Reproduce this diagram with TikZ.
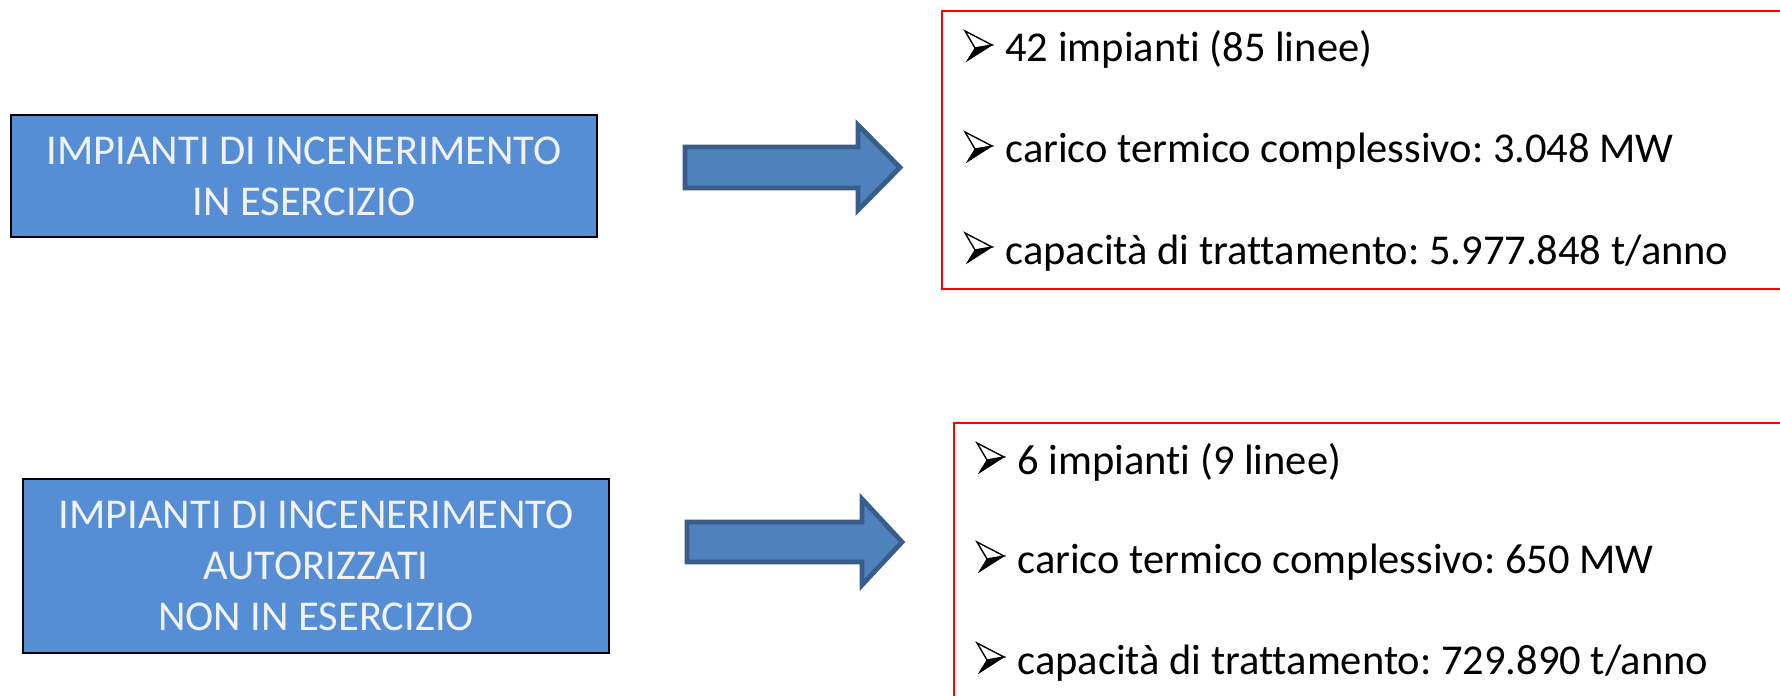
\documentclass[tikz,border=0pt]{standalone}
\usepackage{fontspec}
\setmainfont{Carlito}[Ligatures={NoCommon}]
\definecolor{boxblue}{HTML}{558ED5}
\definecolor{boxtext}{HTML}{F2F2F2}
\definecolor{arrfill}{HTML}{4F81BD}
\definecolor{arrline}{HTML}{385D8A}
\frenchspacing
\begin{document}
\begin{tikzpicture}[x=0.5pt,y=-0.5pt,
  bluebox/.style={draw=black, line width=1.4pt, fill=boxblue, text=boxtext, align=center,
    inner sep=0pt, font=\fontsize{21.25pt}{25.5pt}\selectfont},
  redbox/.style={draw=red, line width=1pt, inner sep=0pt, anchor=north west},
  itemtext/.style={anchor=base west, inner sep=0pt, font=\fontsize{21.25pt}{25.5pt}\selectfont},
  blockarrow/.style={fill=arrfill, draw=arrline, line width=2.4pt, line join=miter},
  bulletpic/.pic={
    \filldraw[black, line width=0.4pt, line join=miter] (10,-14) -- (27,-17) -- (2,-1) -- cycle;
    \draw[black, line width=0.7pt, line join=miter, fill=white] (0,-31) -- (27,-17) -- (10,-14) -- cycle;
  }]
\clip (0,0) rectangle (1780,695);
\fill[white] (0,0) rectangle (1780,695);

% left boxes
\node[bluebox, minimum width=293pt, minimum height=61pt] (b1) at (304,176)
  {IMPIANTI DI INCENERIMENTO\\IN ESERCIZIO};
\node[bluebox, minimum width=293pt, minimum height=87pt] (b2) at (316,566)
  {IMPIANTI DI INCENERIMENTO\\AUTORIZZATI\\NON IN ESERCIZIO};

% red boxes
\node[redbox, minimum width=429.5pt, minimum height=139pt] (r1) at (941,10) {};
\node[redbox, minimum width=424pt, minimum height=149pt] (r2) at (953,422) {};

% block arrows
\coordinate (a1t) at (900,167.5);
\draw[blockarrow] (685,147) -- (858,147) -- (858,125) -- (a1t) -- (858,210) -- (858,188) -- (685,188) -- cycle;
\coordinate (a2t) at (902,542);
\draw[blockarrow] (687,522) -- (862,522) -- (862,499) -- (a2t) -- (862,585) -- (862,562) -- (687,562) -- cycle;

% items
\node[itemtext] (t11) at (1005,62) {42 impianti (85 linee)};
\node[itemtext] (t12) at (1005,163) {carico termico complessivo: 3.048 MW};
\node[itemtext] (t13) at (1005,264) {capacità di trattamento: 5.977.848 t/anno};
\node[itemtext] (t21) at (1017,474) {6 impianti (9 linee)};
\node[itemtext] (t22) at (1017,573) {carico termico complessivo: 650 MW};
\node[itemtext] (t23) at (1017,674) {capacità di trattamento: 729.890 t/anno};

% bullets
\pic (p11) at (965,62) {bulletpic};
\pic (p12) at (965,163) {bulletpic};
\pic (p13) at (965,264) {bulletpic};
\pic (p21) at (977,474) {bulletpic};
\pic (p22) at (977,573) {bulletpic};
\pic (p23) at (977,674) {bulletpic};
\end{tikzpicture}
\end{document}
